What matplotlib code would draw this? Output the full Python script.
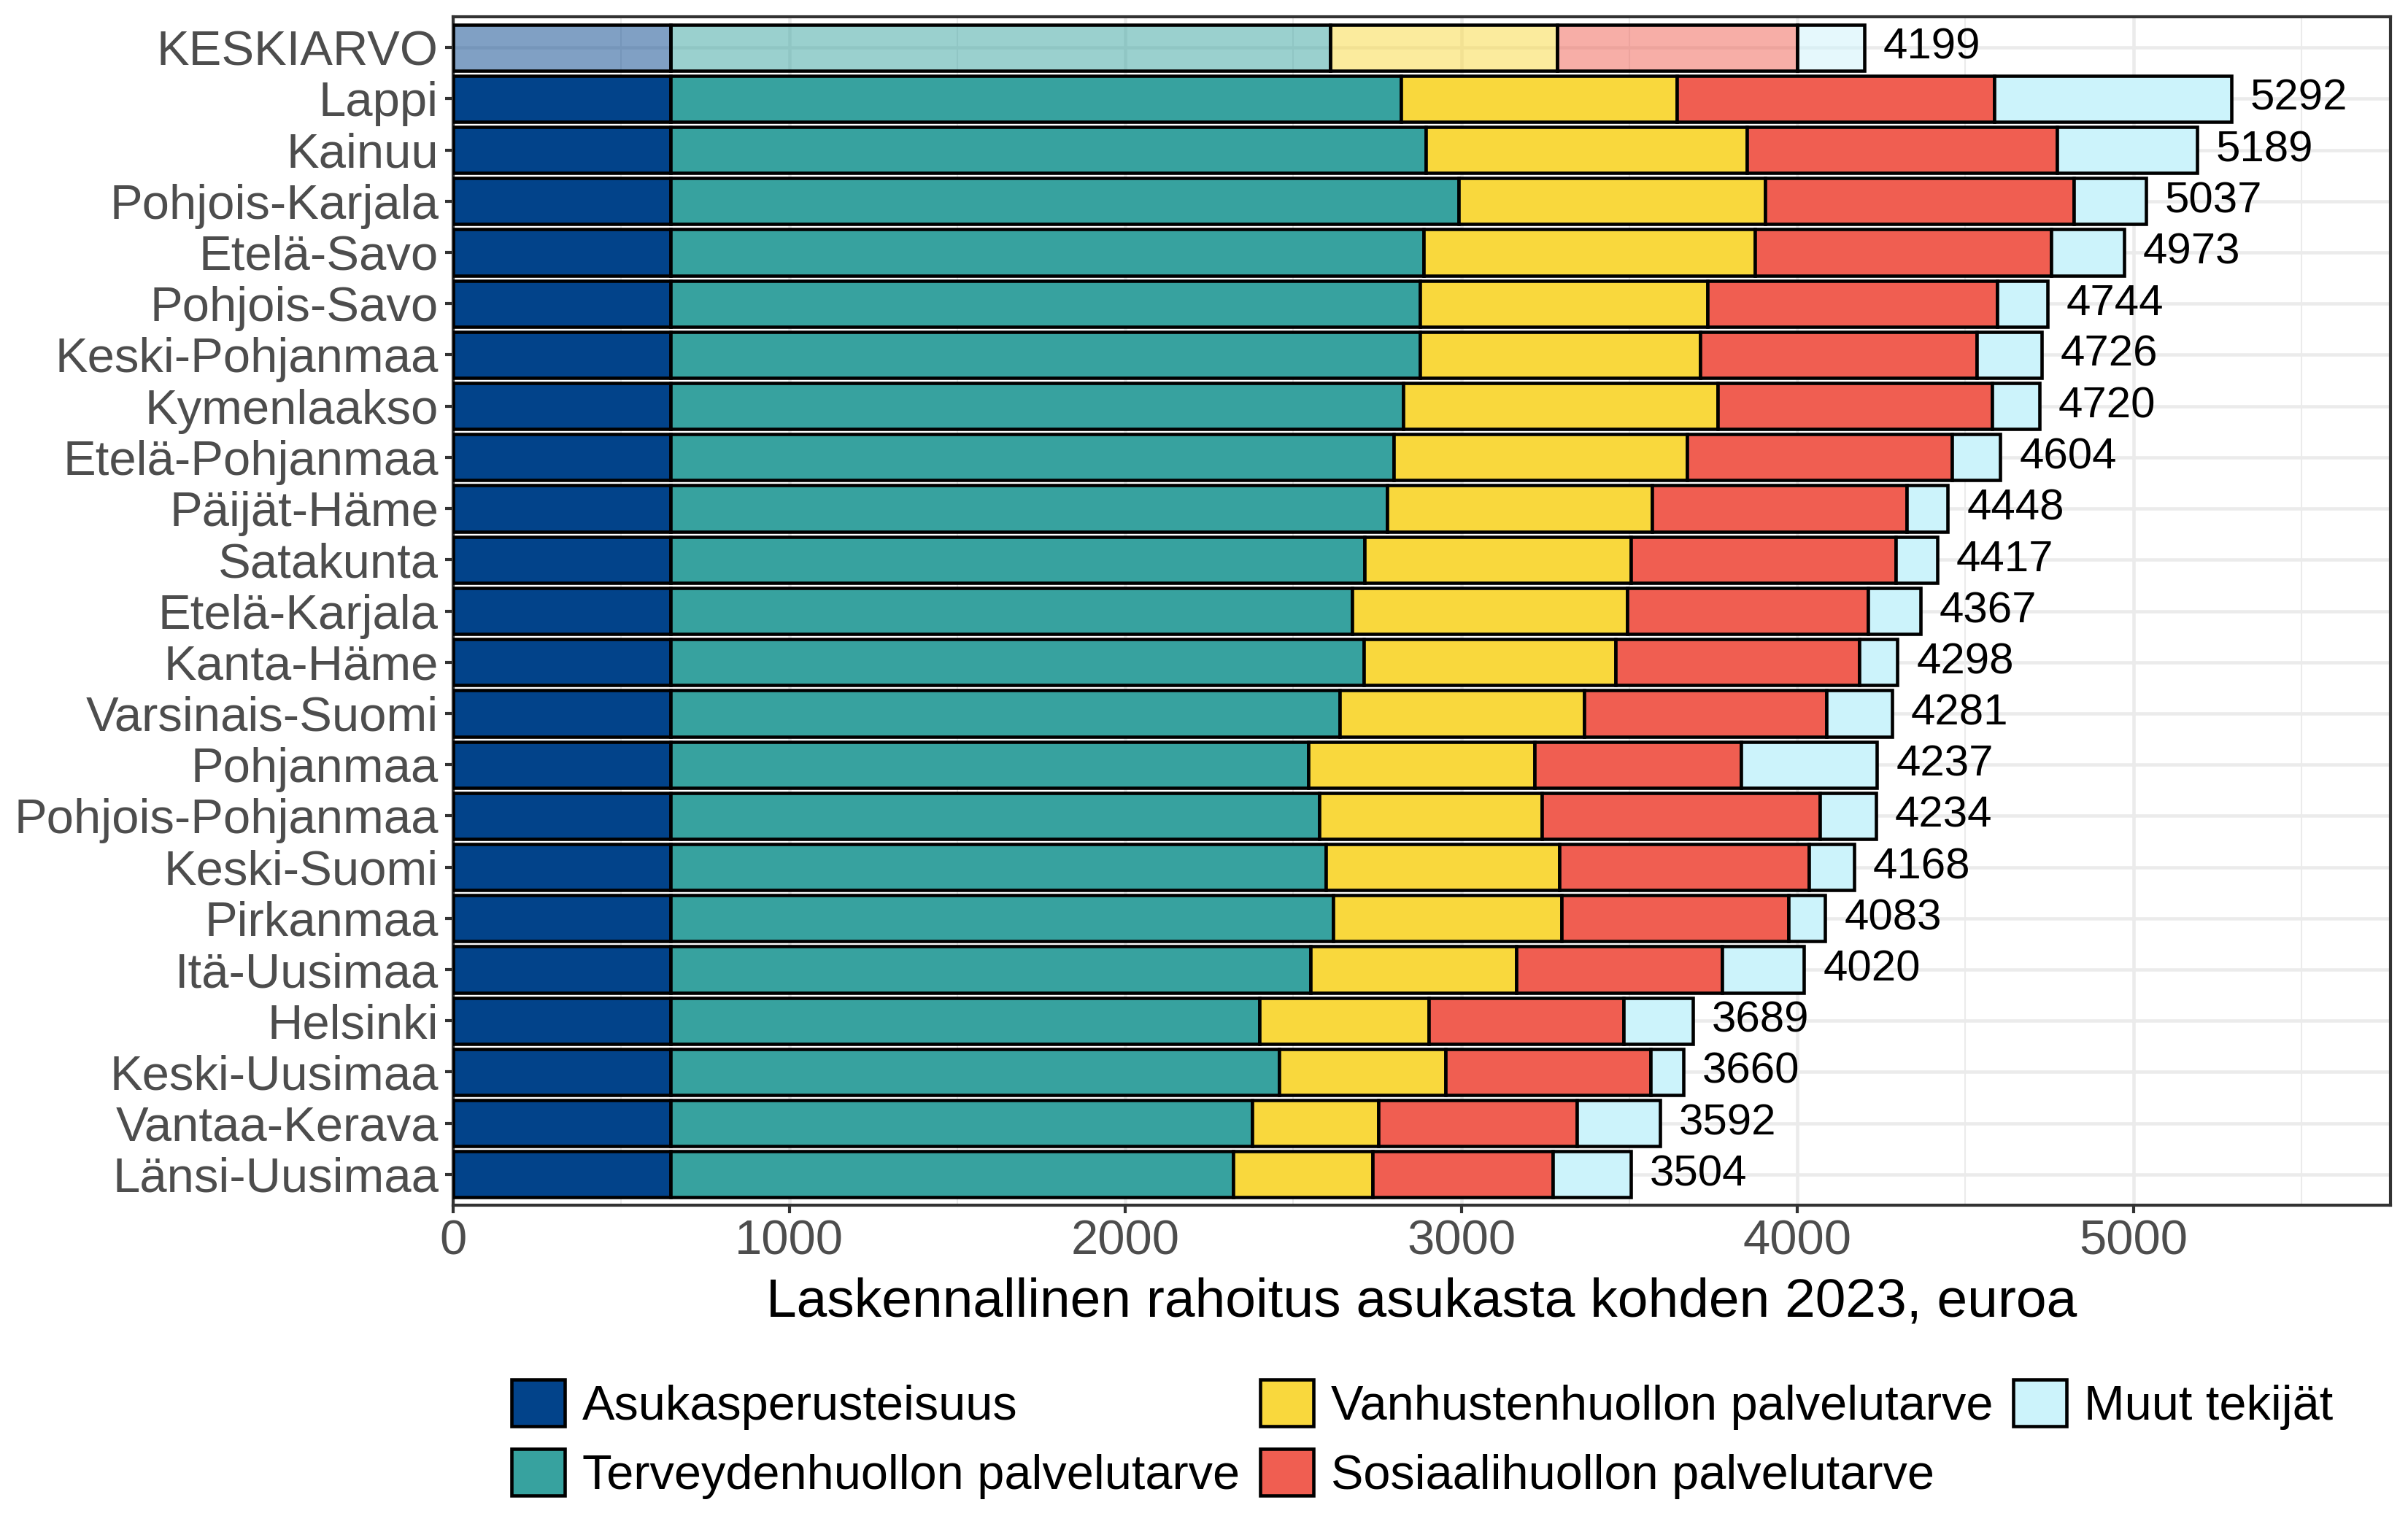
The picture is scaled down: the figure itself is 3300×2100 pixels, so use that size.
import matplotlib
matplotlib.use("Agg")
import matplotlib.pyplot as plt
from matplotlib.colors import to_rgba
from matplotlib.patches import Patch
from matplotlib.ticker import MultipleLocator
import numpy as np

plt.rcParams['font.family'] = ['Liberation Sans', 'DejaVu Sans']

regions = ["KESKIARVO", "Lappi", "Kainuu", "Pohjois-Karjala", "Etelä-Savo", "Pohjois-Savo",
           "Keski-Pohjanmaa", "Kymenlaakso", "Etelä-Pohjanmaa", "Päijät-Häme", "Satakunta",
           "Etelä-Karjala", "Kanta-Häme", "Varsinais-Suomi", "Pohjanmaa", "Pohjois-Pohjanmaa",
           "Keski-Suomi", "Pirkanmaa", "Itä-Uusimaa", "Helsinki", "Keski-Uusimaa",
           "Vantaa-Kerava", "Länsi-Uusimaa"]

asukas = [646] * 23
terveys = [1964, 2174, 2249, 2347, 2242, 2231, 2231, 2182, 2153, 2134, 2067, 2029, 2063, 1992,
           1899, 1932, 1951, 1973, 1906, 1753, 1813, 1731, 1675]
vanhus = [676, 821, 955, 911, 986, 855, 833, 934, 873, 788, 791, 818, 750, 728,
          672, 661, 694, 680, 612, 504, 493, 377, 414]
sosiaali = [713, 945, 922, 918, 881, 862, 824, 817, 788, 757, 788, 717, 725, 721,
            616, 829, 743, 675, 613, 579, 612, 590, 538]
totals = [4199, 5292, 5189, 5037, 4973, 4744, 4726, 4720, 4604, 4448, 4417, 4367, 4298, 4281,
          4237, 4234, 4168, 4083, 4020, 3689, 3660, 3592, 3504]

series_names = ["Asukasperusteisuus", "Terveydenhuollon palvelutarve",
                "Vanhustenhuollon palvelutarve", "Sosiaalihuollon palvelutarve", "Muut tekijät"]
colors = ["#02438A", "#37A29F", "#F9D83D", "#F05E51", "#CCF3FB"]

muut = [t - a - b - c - d for t, a, b, c, d in zip(totals, asukas, terveys, vanhus, sosiaali)]
data = [asukas, terveys, vanhus, sosiaali, muut]

fig = plt.figure(figsize=(11, 7), dpi=300)
ax = fig.add_axes([621 / 3300, 1 - 1652 / 2100, (3276 - 621) / 3300, (1652 - 23) / 2100])

n = len(regions)
ypos = np.arange(n)[::-1] + 1  # top row highest
left = np.zeros(n)
for vals, col in zip(data, colors):
    vals = np.array(vals, dtype=float)
    fcs = [to_rgba(col, 0.5) if r == "KESKIARVO" else to_rgba(col, 1.0) for r in regions]
    ax.barh(ypos, vals, left=left, height=0.9, color=fcs, edgecolor="black",
            linewidth=1.1, zorder=3)
    left += vals

for y, t in zip(ypos, totals):
    ax.annotate(str(t), xy=(t, y), xytext=(6.2, 0), textcoords="offset points",
                ha="left", va="center", fontsize=14.4, color="black", zorder=4)

ax.set_xlim(0, 5765)
ax.set_ylim(0.4, n + 0.6)
ax.set_yticks(ypos)
ax.set_yticklabels(regions)
ax.xaxis.set_major_locator(MultipleLocator(1000))
ax.xaxis.set_minor_locator(MultipleLocator(500))
ax.grid(which="major", color="#EBEBEB", linewidth=1.1, zorder=0)
ax.grid(which="minor", axis="x", color="#EBEBEB", linewidth=0.5, zorder=0)
ax.set_axisbelow(True)
ax.tick_params(axis="both", which="major", length=2.6, width=1.0, color="#333333",
               labelsize=16.1, labelcolor="#4D4D4D", pad=2.2)
ax.tick_params(axis="both", which="minor", length=0)
for s in ax.spines.values():
    s.set_color("#333333")
    s.set_linewidth(1.0)

ax.set_xlabel("Laskennallinen rahoitus asukasta kohden 2023, euroa", fontsize=18.0,
              color="black", labelpad=4)

handles = [Patch(facecolor=c, edgecolor="black", linewidth=1.1) for c in colors]
fig.legend(handles, series_names, loc="center", bbox_to_anchor=(0.5906, 0.0605), ncol=3,
           frameon=False, fontsize=16.0, handlelength=1.1, handleheight=1.1,
           labelspacing=0.39, columnspacing=0.42, handletextpad=0.35, borderpad=0)

fig.savefig("out.png", dpi=300)
